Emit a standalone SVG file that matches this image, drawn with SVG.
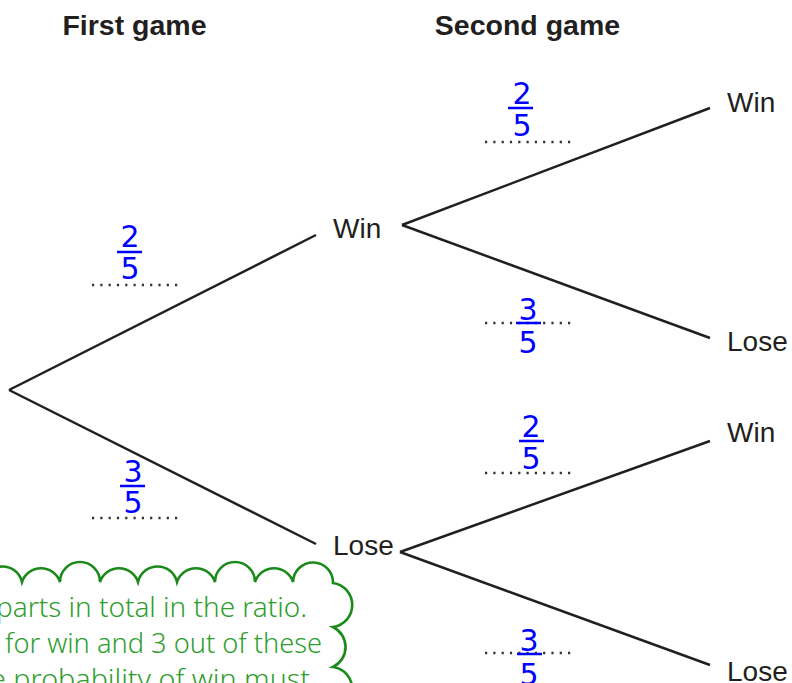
<svg xmlns="http://www.w3.org/2000/svg" width="792" height="683" viewBox="0 0 792 683">
<style>
.hdr{font-family:"Liberation Sans",Arial,sans-serif;font-weight:bold;font-size:28.5px;fill:#231f20;text-anchor:middle}
.lbl{font-family:"Liberation Sans",Arial,sans-serif;font-size:28px;fill:#231f20}
.dig{font-family:"DejaVu Sans",sans-serif;font-size:30px;fill:#0000ff;text-anchor:middle}
.bar{stroke:#0000ff;stroke-width:2.5}
.dots{stroke:#333;stroke-width:2.4;stroke-dasharray:2.2 6.1}
.br{stroke:#231f20;stroke-width:2.5;fill:none}
.note{font-family:"Noto Sans",sans-serif;font-weight:300;font-size:27px;fill:#2f9e2f}
</style>
<rect width="792" height="683" fill="#fff"/>
<g id="headers">
<text class="hdr" x="134.5" y="35">First game</text>
<text class="hdr" x="527.5" y="35">Second game</text>
</g>
<g id="connectors">
<line class="br" x1="9" y1="390" x2="316" y2="235"/>
<line class="br" x1="9" y1="390" x2="316" y2="544"/>
<line class="br" x1="402" y1="225" x2="710" y2="108"/>
<line class="br" x1="402" y1="225" x2="710" y2="338"/>
<line class="br" x1="400" y1="552" x2="710" y2="441"/>
<line class="br" x1="400" y1="552" x2="710" y2="665"/>
</g>
<g id="node-win1"><text class="lbl" x="333" y="238">Win</text></g>
<g id="node-lose1"><text class="lbl" x="333" y="555">Lose</text></g>
<g id="node-win-win"><text class="lbl" x="727" y="112">Win</text></g>
<g id="node-win-lose"><text class="lbl" x="727" y="351">Lose</text></g>
<g id="node-lose-win"><text class="lbl" x="727" y="442">Win</text></g>
<g id="node-lose-lose"><text class="lbl" x="727" y="681">Lose</text></g>
<g id="prob-1">
<line class="dots" x1="92" y1="285" x2="178" y2="285"/>
<text class="dig" x="130" y="247">2</text>
<line class="bar" x1="117" y1="252" x2="142" y2="252"/>
<text class="dig" x="130" y="279">5</text>
</g>
<g id="prob-2">
<line class="dots" x1="92" y1="518" x2="178" y2="518"/>
<text class="dig" x="133" y="482">3</text>
<line class="bar" x1="120" y1="486" x2="145" y2="486"/>
<text class="dig" x="133" y="513">5</text>
</g>
<g id="prob-3">
<line class="dots" x1="485" y1="142" x2="571" y2="142"/>
<text class="dig" x="522" y="104">2</text>
<line class="bar" x1="508" y1="108" x2="533" y2="108"/>
<text class="dig" x="522" y="136">5</text>
</g>
<g id="prob-4">
<line class="dots" x1="485" y1="323" x2="571" y2="323"/>
<text class="dig" x="528" y="320">3</text>
<line class="bar" x1="516" y1="323" x2="541" y2="323"/>
<text class="dig" x="528" y="353">5</text>
</g>
<g id="prob-5">
<line class="dots" x1="485" y1="473" x2="571" y2="473"/>
<text class="dig" x="531" y="437">2</text>
<line class="bar" x1="519" y1="441" x2="544" y2="441"/>
<text class="dig" x="531" y="469">5</text>
</g>
<g id="prob-6">
<line class="dots" x1="485" y1="653" x2="571" y2="653"/>
<text class="dig" x="529" y="651">3</text>
<line class="bar" x1="517" y1="654" x2="542" y2="654"/>
<text class="dig" x="529" y="685">5</text>
</g>
<g id="note">
<path d="M -17,582 A 20 20 0 0 1 22,582 A 20 20 0 0 1 60,582 A 20 20 0 0 1 100,582 A 20 20 0 0 1 138,582 A 20 20 0 0 1 177,582 A 20 20 0 0 1 215,582 A 20 20 0 0 1 255,582 A 20 20 0 0 1 293,582 A 20 20 0 0 1 333,583 A 22.2 22.2 0 0 1 333,627 A 22.2 22.2 0 0 1 333,667 A 22.2 22.2 0 0 1 333,711 L -20,711 Z" fill="#fff" stroke="#1a8a1a" stroke-width="2.6"/>
<text class="note" x="-4" y="617" textLength="311" lengthAdjust="spacingAndGlyphs">parts in total in the ratio.</text>
<text class="note" x="5" y="653" textLength="317" lengthAdjust="spacingAndGlyphs">for win and 3 out of these</text>
<text class="note" x="-10" y="689" textLength="320" lengthAdjust="spacingAndGlyphs">e probability of win must</text>
</g>
</svg>
